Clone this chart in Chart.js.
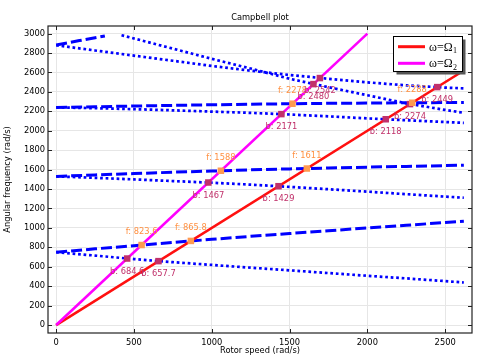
<!DOCTYPE html>
<html><head><meta charset="utf-8">
<script src="https://cdn.jsdelivr.net/npm/chart.js@4"></script>
<style>html,body{margin:0;padding:0;background:#fff}#c{display:block}</style>
</head><body>
<canvas id="c" width="491" height="363"></canvas>
<script>
// ---- data ----
const speed = [0, 250, 500, 750, 1000, 1250, 1500, 1750, 2000, 2250, 2500, 2620];
const fwd1 = [750, 784, 817, 851, 882, 913, 942, 970, 1000, 1027, 1055, 1068];
const bwd1 = [750, 715, 679, 647, 619, 590, 563, 535, 507, 480, 452, 438];
const fwd2 = [1530, 1545, 1559, 1573, 1585, 1597, 1607, 1616, 1625, 1633, 1641, 1645];
const bwd2 = [1530, 1515, 1499, 1482, 1465, 1445, 1422, 1398, 1373, 1347, 1322, 1310];
const fwd3 = [2240, 2247, 2254, 2261, 2267, 2273, 2278, 2282, 2285, 2288, 2290, 2291];
const bwd3 = [2240, 2232, 2222, 2210, 2197, 2184, 2167, 2148, 2127, 2108, 2090, 2081];
const bwd4 = [2880, 2826, 2773, 2720, 2667, 2618, 2574, 2535, 2498, 2467, 2444, 2436];
const fwd4Speed = [0, 150, 313];
const fwd4 = [2882, 2928, 2976];
const bwd5Speed = [420, 500, 750, 1000, 1250, 1500, 1750, 2000, 2250, 2500, 2620];
const bwd5 = [2983, 2950, 2845, 2740, 2640, 2535, 2448, 2365, 2282, 2214, 2184];
const omega1Speed = [0, 2620];
const omega1 = [0, 2620];
const omega2Speed = [0, 2000];
const omega2 = [0, 3000];
const fwdMarkX = [549.1, 865.8, 1058.7, 1611, 1518.7, 2288];
const fwdMarkY = [823.6, 865.8, 1588, 1611, 2278, 2288];
const fwdMarkText = ['f: 823.6', 'f: 865.8', 'f: 1588', 'f: 1611', 'f: 2278', 'f: 2288'];
const bwdMarkX = [456.4, 657.7, 978, 1429, 1447.3, 2118, 1653.3, 1694.7, 2274, 2449];
const bwdMarkY = [684.6, 657.7, 1467, 1429, 2171, 2118, 2480, 2542, 2274, 2449];
const bwdMarkText = ['b: 684.6', 'b: 657.7', 'b: 1467', 'b: 1429', 'b: 2171', 'b: 2118', 'b: 2480', 'b: 2542', 'b: 2274', 'b: 2449'];
const xTickValues = [0, 500, 1000, 1500, 2000, 2500];
const yTickValues = [0, 200, 400, 600, 800, 1000, 1200, 1400, 1600, 1800, 2000, 2200, 2400, 2600, 2800, 3000];

// ---- build ----
const zip = (xs, ys) => xs.map((x, i) => ({x: x, y: ys[i]}));
const FONT = 'DejaVu Sans';
const FS = 8.3;
const BLUE = '#0000ff';
const FCOL = '#ff9a50';
const BCOL = '#c2306a';
const dashed = [11, 4];
const dotted = [2.7, 2.8];

function blue(data, dash) {
  return {data: data, borderColor: BLUE, borderWidth: dash === dashed ? 3 : 2.7, borderDash: dash,
    borderCapStyle: 'butt', pointRadius: 0, fill: false, order: 5};
}

const datasets = [
  {label: 'fmarks', data: zip(fwdMarkX, fwdMarkY), showLine: false, pointStyle: 'rect', pointRadius: 4.6,
    pointBackgroundColor: FCOL, pointBorderWidth: 0, order: 0, texts: fwdMarkText, textColor: '#ff9040', dy: -13},
  {label: 'bmarks', data: zip(bwdMarkX, bwdMarkY), showLine: false, pointStyle: 'rect', pointRadius: 4.6,
    pointBackgroundColor: BCOL, pointBorderWidth: 0, order: 0, texts: bwdMarkText, textColor: '#c0306a', dy: 13},
  {label: 'ω=Ω1', data: zip(omega1Speed, omega1), borderColor: '#ff1010', borderWidth: 2.6, pointRadius: 0, order: 2},
  {label: 'ω=Ω2', data: zip(omega2Speed, omega2), borderColor: '#ff00ff', borderWidth: 2.6, pointRadius: 0, order: 1},
  blue(zip(speed, fwd1), dashed),
  blue(zip(speed, bwd1), dotted),
  blue(zip(speed, fwd2), dashed),
  blue(zip(speed, bwd2), dotted),
  blue(zip(speed, fwd3), dashed),
  blue(zip(speed, bwd3), dotted),
  blue(zip(speed, bwd4), dotted),
  blue(zip(fwd4Speed, fwd4), dashed),
  blue(zip(bwd5Speed, bwd5), dotted)
];

const decor = {
  id: 'decor',
  afterDatasetsDraw(chart) {
    const ctx = chart.ctx;
    ctx.save();
    ctx.font = FS + 'px "' + FONT + '"';
    ctx.textAlign = 'center';
    ctx.textBaseline = 'middle';
    chart.data.datasets.forEach((ds, di) => {
      if (!ds.texts) return;
      const meta = chart.getDatasetMeta(di);
      ctx.fillStyle = ds.textColor;
      meta.data.forEach((pt, i) => {
        ctx.fillText(ds.texts[i], pt.x, pt.y + ds.dy);
      });
    });
    ctx.restore();
  },
  afterDraw(chart) {
    const ctx = chart.ctx;
    const a = chart.chartArea;
    const xs = chart.scales.x, ys = chart.scales.y;
    ctx.save();
    ctx.strokeStyle = '#222';
    ctx.lineWidth = 1.2;
    ctx.strokeRect(a.left, a.top, a.right - a.left, a.bottom - a.top);
    const TL = 4;
    ctx.lineWidth = 1;
    ctx.beginPath();
    xs.ticks.forEach(t => {
      const px = Math.round(xs.getPixelForValue(t.value)) + 0.5;
      ctx.moveTo(px, a.bottom); ctx.lineTo(px, a.bottom - TL);
      ctx.moveTo(px, a.top); ctx.lineTo(px, a.top + TL);
    });
    ys.ticks.forEach(t => {
      const py = Math.round(ys.getPixelForValue(t.value)) + 0.5;
      ctx.moveTo(a.left, py); ctx.lineTo(a.left + TL, py);
      ctx.moveTo(a.right, py); ctx.lineTo(a.right - TL, py);
    });
    ctx.stroke();
    ctx.fillStyle = '#000';
    ctx.font = FS + 'px "' + FONT + '"';
    ctx.textAlign = 'center';
    ctx.textBaseline = 'middle';
    ctx.fillText('Campbell plot', (a.left + a.right) / 2, 18);
    const lx = 393.5, ly = 36.5, lw = 69, lh = 35;
    ctx.fillStyle = '#555';
    ctx.fillRect(lx + 3, ly + 3, lw, lh);
    ctx.fillStyle = '#fff';
    ctx.fillRect(lx, ly, lw, lh);
    ctx.strokeStyle = '#000';
    ctx.lineWidth = 1;
    ctx.strokeRect(lx, ly, lw, lh);
    const items = [chart.data.datasets[2], chart.data.datasets[3]];
    const subs = ['1', '2'];
    items.forEach((ds, i) => {
      const y = 46.7 + i * 16.6;
      ctx.strokeStyle = ds.borderColor;
      ctx.lineWidth = 3;
      ctx.beginPath();
      ctx.moveTo(398, y); ctx.lineTo(425, y);
      ctx.stroke();
      ctx.fillStyle = '#000';
      ctx.textAlign = 'left';
      ctx.textBaseline = 'alphabetic';
      ctx.font = '12px "Liberation Serif"';
      const main = 'ω=Ω';
      ctx.fillText(main, 429, y + 4);
      const w = ctx.measureText(main).width;
      ctx.font = '8px "Liberation Serif"';
      ctx.fillText(subs[i], 429 + w + 0.5, y + 6.5);
    });
    ctx.restore();
  }
};

new Chart(document.getElementById('c').getContext('2d'), {
  type: 'line',
  data: {datasets: datasets},
  options: {
    responsive: false,
    animation: false,
    devicePixelRatio: 1,
    layout: {padding: {top: 26, right: 19, left: 0, bottom: 0}},
    plugins: {legend: {display: false}, tooltip: {enabled: false}, title: {display: false}},
    elements: {line: {tension: 0}},
    scales: {
      x: {
        type: 'linear', min: -52.4, max: 2672.4,
        afterBuildTicks: s => { s.ticks = xTickValues.map(v => ({value: v})); },
        ticks: {color: '#000', font: {family: FONT, size: FS}, padding: 5, maxRotation: 0, autoSkip: false, callback: v => String(v)},
        grid: {color: '#e6e6e6', drawTicks: false},
        border: {display: false},
        title: {display: true, text: 'Rotor speed (rad/s)', color: '#000', font: {family: FONT, size: FS}, padding: {top: 0, bottom: 7}},
        afterFit: s => { s.height = 30; }
      },
      y: {
        type: 'linear', min: -82, max: 3078,
        afterBuildTicks: s => { s.ticks = yTickValues.map(v => ({value: v})); },
        ticks: {color: '#000', font: {family: FONT, size: FS}, padding: 3, autoSkip: false, callback: v => String(v)},
        grid: {color: '#e6e6e6', drawTicks: false},
        border: {display: false},
        title: {display: true, text: 'Angular frequency (rad/s)', color: '#000', font: {family: FONT, size: FS}, padding: {top: 3, bottom: 0}},
        afterFit: s => { s.width = 48; }
      }
    }
  },
  plugins: [decor]
});
</script>
</body></html>
